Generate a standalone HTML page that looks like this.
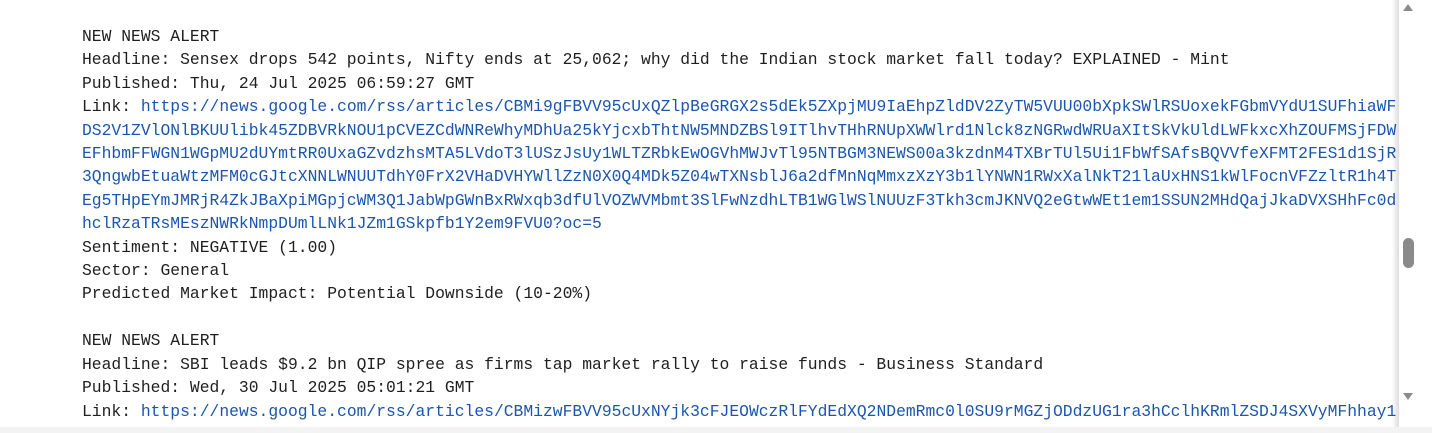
<!DOCTYPE html>
<html><head><meta charset="utf-8"><style>
html,body{margin:0;padding:0;width:1432px;height:433px;overflow:hidden;background:#fff}
#out{position:absolute;left:82px;top:25px;width:1315px;height:402px;overflow:hidden;font-family:"Liberation Mono",monospace;font-size:16.35px;line-height:23.4px;color:#1f1f1f;white-space:pre}
a{color:#1a56b0;text-decoration:none}
#shade{position:absolute;left:1392px;top:0;width:6px;height:427px;background:linear-gradient(to right,rgba(0,0,0,0),rgba(0,0,0,0.12))}
#sb{position:absolute;left:1398px;top:0;width:20px;height:427px;background:#fff;border-left:1px solid #e0e0e0}
#thumb{position:absolute;left:1403px;top:238px;width:11px;height:30px;background:#8a8a8a;border-radius:6px}
.arr{position:absolute;left:1403px;width:0;height:0;border-left:5.5px solid transparent;border-right:5.5px solid transparent}
#bottom{position:absolute;left:0;top:427px;width:1432px;height:6px;background:#f3f3f3}
</style></head><body>
<div id="out">NEW NEWS ALERT
Headline: Sensex drops 542 points, Nifty ends at 25,062; why did the Indian stock market fall today? EXPLAINED - Mint
Published: Thu, 24 Jul 2025 06:59:27 GMT
Link: <a>https://news.google.com/rss/articles/CBMi9gFBVV95cUxQZlpBeGRGX2s5dEk5ZXpjMU9IaEhpZldDV2ZyTW5VUU00bXpkSWlRSUoxekFGbmVYdU1SUFhiaWF
DS2V1ZVlONlBKUUlibk45ZDBVRkNOU1pCVEZCdWNReWhyMDhUa25kYjcxbThtNW5MNDZBSl9ITlhvTHhRNUpXWWlrd1Nlck8zNGRwdWRUaXItSkVkUldLWFkxcXhZOUFMSjFDW
EFhbmFFWGN1WGpMU2dUYmtRR0UxaGZvdzhsMTA5LVdoT3lUSzJsUy1WLTZRbkEwOGVhMWJvTl95NTBGM3NEWS00a3kzdnM4TXBrTUl5Ui1FbWfSAfsBQVVfeXFMT2FES1d1SjR
3QngwbEtuaWtzMFM0cGJtcXNNLWNUUTdhY0FrX2VHaDVHYWllZzN0X0Q4MDk5Z04wTXNsblJ6a2dfMnNqMmxzXzY3b1lYNWN1RWxXalNkT21laUxHNS1kWlFocnVFZzltR1h4T
Eg5THpEYmJMRjR4ZkJBaXpiMGpjcWM3Q1JabWpGWnBxRWxqb3dfUlVOZWVMbmt3SlFwNzdhLTB1WGlWSlNUUzF3Tkh3cmJKNVQ2eGtwWEt1em1SSUN2MHdQajJkaDVXSHhFc0d
hclRzaTRsMEszNWRkNmpDUmlLNk1JZm1GSkpfb1Y2em9FVU0?oc=5</a>
Sentiment: NEGATIVE (1.00)
Sector: General
Predicted Market Impact: Potential Downside (10-20%)

NEW NEWS ALERT
Headline: SBI leads $9.2 bn QIP spree as firms tap market rally to raise funds - Business Standard
Published: Wed, 30 Jul 2025 05:01:21 GMT
Link: <a>https://news.google.com/rss/articles/CBMizwFBVV95cUxNYjk3cFJEOWczRlFYdEdXQ2NDemRmc0l0SU9rMGZjODdzUG1ra3hCclhKRmlZSDJ4SXVyMFhhay1</a></div>
<div id="shade"></div>
<div id="sb"></div>
<div class="arr" style="top:4px;border-bottom:7px solid #8a8a8a"></div>
<div id="thumb"></div>
<div class="arr" style="top:393px;border-top:7px solid #8a8a8a"></div>
<div id="bottom"></div>
</body></html>
